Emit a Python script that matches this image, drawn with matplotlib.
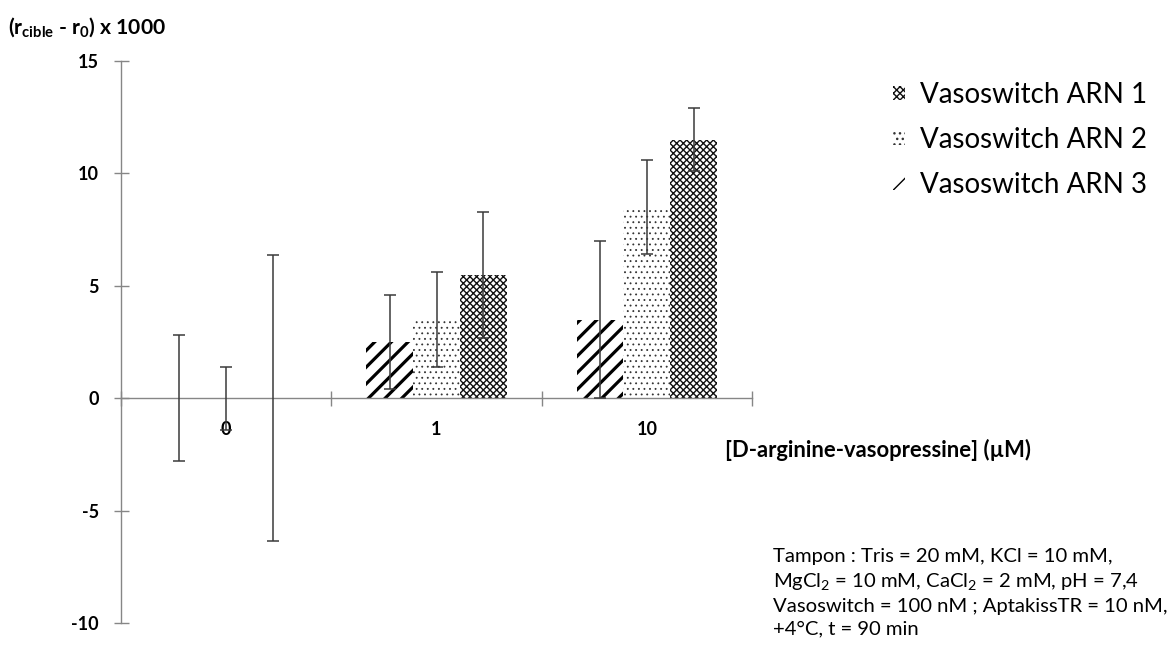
import matplotlib
matplotlib.use("Agg")
import matplotlib.pyplot as plt
import numpy as np

# ---- data ----
categories = ["0", "1", "10"]
series_names = ["Vasoswitch ARN 1", "Vasoswitch ARN 2", "Vasoswitch ARN 3"]
arn1 = [0.0, 5.5, 11.5]
arn1_err = [6.35, 2.8, 1.4]
arn2 = [0.0, 3.5, 8.5]
arn2_err = [1.4, 2.1, 2.1]
arn3 = [0.0, 2.5, 3.5]
arn3_err = [2.8, 2.1, 3.5]
yticks = [-10, -5, 0, 5, 10, 15]

FONT = "Lato"
plt.rcParams["font.family"] = [FONT, "DejaVu Sans"]
plt.rcParams["mathtext.fontset"] = "custom"
plt.rcParams["mathtext.rm"] = FONT
plt.rcParams["mathtext.bf"] = FONT + ":bold"
plt.rcParams["mathtext.it"] = FONT + ":italic"

W, H = 1176, 651
fig = plt.figure(figsize=(W / 100, H / 100), dpi=100)
ax = fig.add_axes([121 / W, 1 - 623 / H, (752 - 121) / W, (623 - 61) / H])

x = np.arange(len(categories)) + 0.5
bw = 0.222
axis_grey = "#868686"
err_col = "#3a3a3a"

styles = {
    # name: (values, err, offset, hatch, hatch colour, hatch linewidth)
    "Vasoswitch ARN 3": (arn3, arn3_err, -bw, "//", "black", 2.3),
    "Vasoswitch ARN 2": (arn2, arn2_err, 0.0, "...", "#333333", 0.6),
    "Vasoswitch ARN 1": (arn1, arn1_err, bw, "xxxxx", "#111111", 1.0),
}
handles = {}
for name in ["Vasoswitch ARN 3", "Vasoswitch ARN 2", "Vasoswitch ARN 1"]:
    vals, err, off, hatch, hcol, hlw = styles[name]
    with plt.rc_context({"hatch.linewidth": hlw}):
        b = ax.bar(x + off, vals, width=bw, color="white", edgecolor=hcol,
                   hatch=hatch, linewidth=0, label=name, zorder=2)
        for p in b.patches:
            try:
                p.set_hatch_linewidth(hlw)
            except Exception:
                pass
    ax.errorbar(x + off, vals, yerr=err, fmt="none", ecolor=err_col,
                elinewidth=1.1, capsize=4.5, capthick=1.1, zorder=3)
    handles[name] = b

ax.set_xlim(0, 3)
ax.set_ylim(-10, 15)

for s in ["top", "right"]:
    ax.spines[s].set_visible(False)
ax.spines["bottom"].set_position(("data", 0))
ax.spines["bottom"].set_color(axis_grey)
ax.spines["left"].set_color(axis_grey)
ax.spines["bottom"].set_linewidth(1.0)
ax.spines["left"].set_linewidth(1.0)

ax.set_yticks(yticks)
ax.set_yticklabels([str(v) for v in yticks])
ax.tick_params(axis="y", direction="inout", length=10.8, width=1.0,
               color=axis_grey, pad=10.4, labelsize=13)
ax.set_xticks([0, 1, 2, 3])
ax.set_xticklabels([])
ax.set_xticks(x, minor=True)
ax.set_xticklabels(categories, minor=True)
ax.tick_params(axis="x", which="major", direction="inout", length=10.8,
               width=1.0, color=axis_grey)
ax.tick_params(axis="x", which="minor", length=0, pad=16.5, labelsize=13)
for lab in ax.get_yticklabels() + ax.get_xticklabels(minor=True):
    lab.set_fontweight("bold")

# y label at top-left
fig.text(8 / W, 1 - 27 / H,
         r"(r$_{\mathbf{cible}}$ - r$_{\mathbf{0}}$) x 1000",
         fontsize=15.2, fontweight="bold", ha="left", va="center")
# x label
fig.text(725 / W, 1 - 450 / H, "[D-arginine-vasopressine] (µM)",
         fontsize=15.8, fontweight="bold", ha="left", va="center")

# legend
leg = fig.legend([handles[n] for n in series_names], series_names,
                 loc="upper left", bbox_to_anchor=(893 / W, 1 - 82 / H),
                 frameon=False, fontsize=20, handlelength=0.42,
                 handleheight=0.42, handletextpad=0.55, labelspacing=0.68,
                 borderaxespad=0, borderpad=0)

# annotation
note = ("Tampon : Tris = 20 mM, KCl = 10 mM,\n"
        "MgCl$_2$ = 10 mM, CaCl$_2$ = 2 mM, pH = 7,4\n"
        "Vasoswitch = 100 nM ; AptakissTR = 10 nM,\n"
        "+4°C, t = 90 min")
fig.text(773 / W, 1 - 548 / H, note, fontsize=14.6, ha="left", va="top",
         linespacing=1.4)

fig.savefig("out.png", dpi=100)
